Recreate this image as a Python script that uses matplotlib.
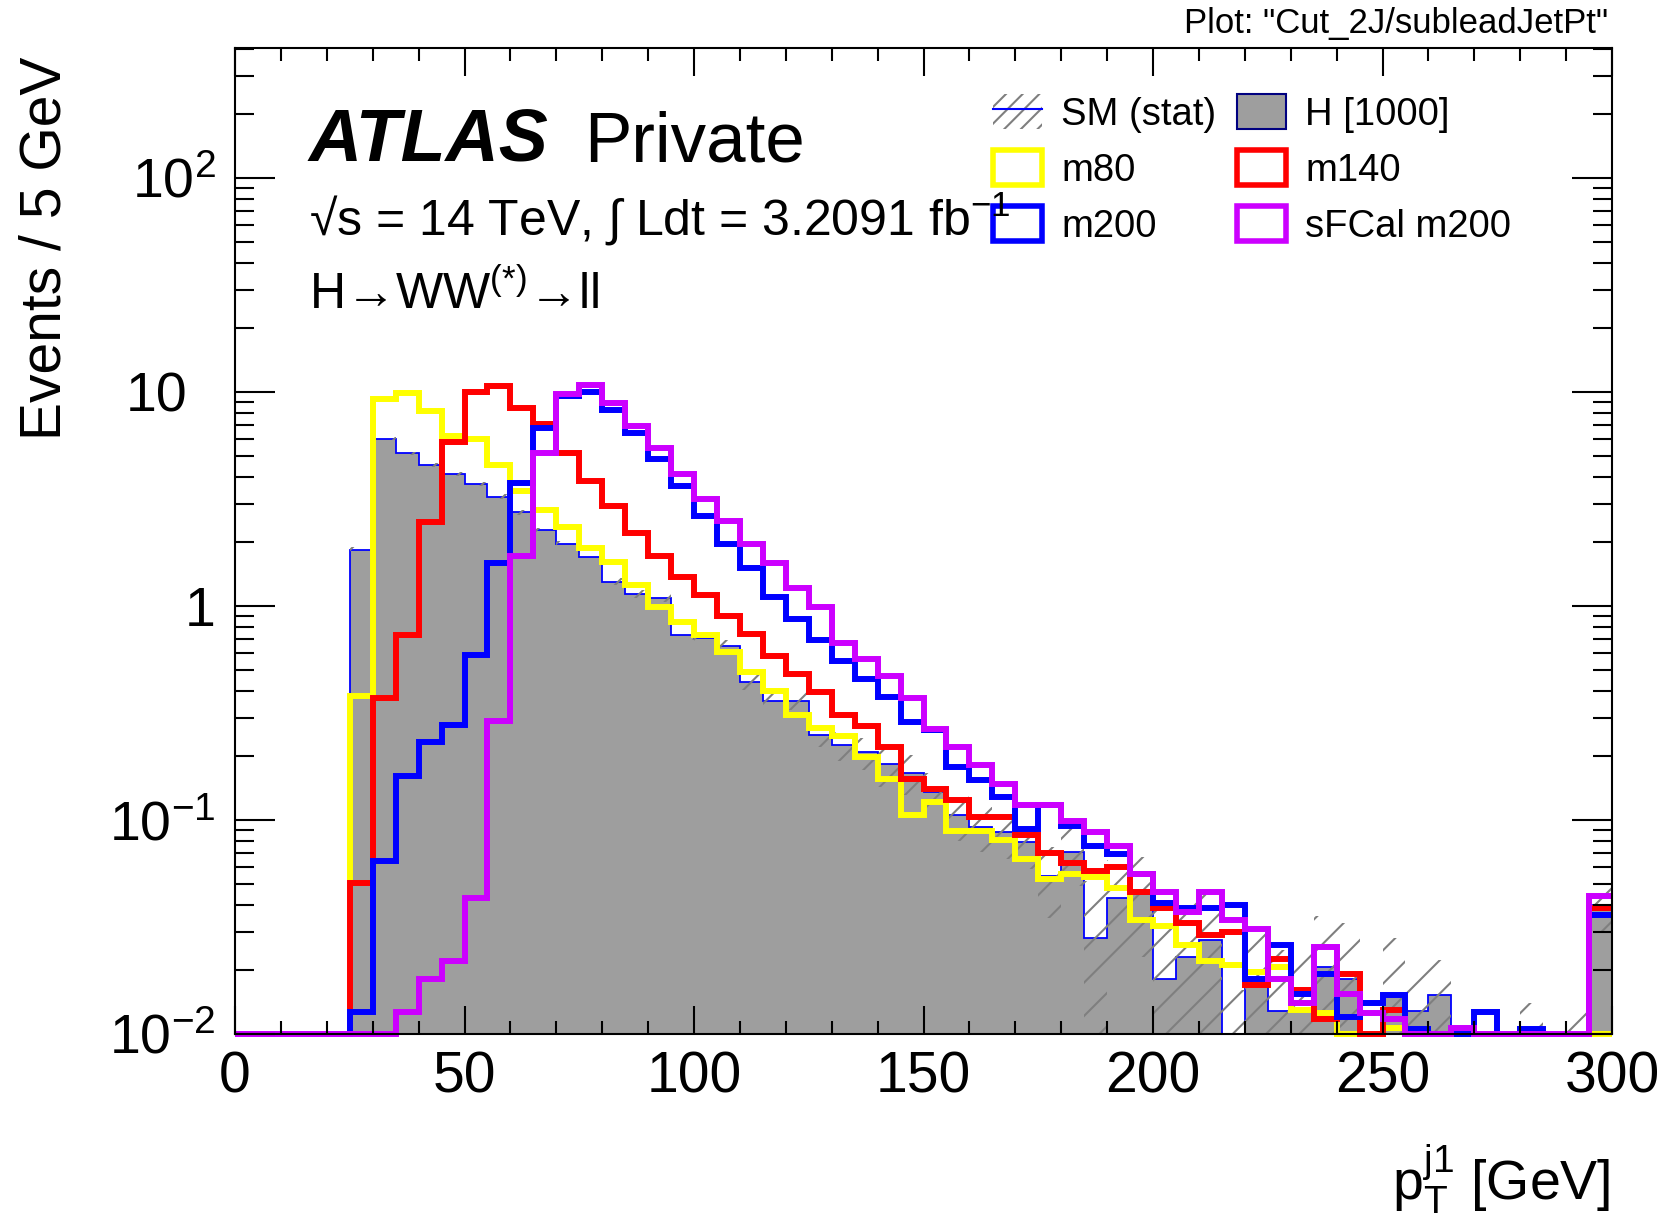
import numpy as np
import matplotlib.pyplot as plt
import matplotlib.transforms as mtransforms
from matplotlib.patches import Patch
from matplotlib.lines import Line2D
from matplotlib.ticker import FixedLocator, FixedFormatter, MultipleLocator, LogLocator, NullFormatter

plt.rcParams['font.family'] = ['Liberation Sans', 'DejaVu Sans']
plt.rcParams['mathtext.fontset'] = 'custom'
plt.rcParams['mathtext.rm'] = 'Liberation Sans'
plt.rcParams['mathtext.it'] = 'Liberation Sans:italic'
plt.rcParams['mathtext.bf'] = 'Liberation Sans:bold'
plt.rcParams['hatch.linewidth'] = 1.5

# 5 GeV bins from 0 to 300
edges = np.arange(0, 305, 5)

# SM background (H [1000]) and its stat error
sm = np.array([0, 0, 0, 0, 0, 1.83, 6.06, 5.16, 4.58, 4.16,
               3.71, 3.24, 2.74, 2.26, 1.95, 1.69, 1.30, 1.14, 1.09, 0.73,
               0.71, 0.65, 0.44, 0.36, 0.36, 0.25, 0.223, 0.207, 0.183, 0.166,
               0.135, 0.105, 0.093, 0.088, 0.079, 0.055, 0.071, 0.028, 0.043, 0.045,
               0.018, 0.023, 0.0275, 0, 0.017, 0.0128, 0.013, 0.0205, 0.018, 0,
               0.015, 0.0128, 0.0152, 0, 0, 0, 0, 0, 0, 0.040])
sm_err = np.array([0, 0, 0, 0, 0, 0.06, 0.12, 0.11, 0.10, 0.09,
                   0.09, 0.08, 0.07, 0.06, 0.06, 0.05, 0.05, 0.05, 0.05, 0.04,
                   0.04, 0.04, 0.035, 0.035, 0.035, 0.03, 0.035, 0.035, 0.04, 0.035,
                   0.03, 0.025, 0.022, 0.022, 0.02, 0.02, 0.022, 0.024, 0.022, 0.022,
                   0.022, 0.02, 0.02, 0.016, 0.015, 0.012, 0.012, 0.015, 0.015, 0,
                   0.013, 0.008, 0.007, 0, 0, 0, 0.014, 0, 0.014, 0.01])

m80 = np.array([0, 0, 0, 0, 0, 0.38, 9.25, 9.94, 8.15, 6.23,
                6.06, 4.55, 3.45, 2.81, 2.33, 1.86, 1.60, 1.25, 0.99, 0.84,
                0.73, 0.61, 0.49, 0.40, 0.31, 0.27, 0.248, 0.197, 0.155, 0.105,
                0.121, 0.089, 0.089, 0.081, 0.066, 0.053, 0.056, 0.054, 0.048, 0.034,
                0.032, 0.026, 0.022, 0.021, 0.0195, 0.0205, 0.013, 0.0125, 0, 0,
                0.0107, 0, 0, 0, 0, 0, 0, 0, 0, 0])
m140 = np.array([0, 0, 0, 0, 0, 0.051, 0.37, 0.73, 2.46, 5.84,
                 10.0, 10.7, 8.46, 7.07, 5.21, 3.84, 2.94, 2.20, 1.72, 1.36,
                 1.12, 0.90, 0.74, 0.586, 0.48, 0.395, 0.31, 0.275, 0.22, 0.156,
                 0.14, 0.124, 0.103, 0.103, 0.085, 0.070, 0.063, 0.058, 0.060, 0.046,
                 0.039, 0.033, 0.029, 0.030, 0.017, 0.0225, 0.016, 0.0117, 0.019, 0,
                 0.013, 0, 0, 0, 0, 0, 0, 0, 0, 0.039])
m200 = np.array([0, 0, 0, 0, 0, 0.0127, 0.064, 0.161, 0.231, 0.279,
                 0.59, 1.59, 3.75, 6.77, 9.6, 10.0, 8.2, 6.42, 4.85, 3.65,
                 2.64, 1.95, 1.50, 1.10, 0.87, 0.69, 0.555, 0.457, 0.375, 0.287,
                 0.262, 0.177, 0.153, 0.128, 0.091, 0.117, 0.094, 0.076, 0.069, 0.056,
                 0.041, 0.039, 0.039, 0.040, 0.018, 0.026, 0.0153, 0.019, 0.012, 0.014,
                 0.0152, 0.0105, 0, 0, 0.0127, 0, 0.0105, 0, 0, 0.036])
sfcal_m200 = np.array([0, 0, 0, 0, 0, 0, 0, 0.0127, 0.018, 0.022,
                       0.043, 0.29, 1.72, 5.2, 9.76, 10.8, 8.92, 6.95, 5.5, 4.13,
                       3.16, 2.5, 1.95, 1.59, 1.22, 0.986, 0.67, 0.566, 0.47, 0.37,
                       0.267, 0.22, 0.181, 0.148, 0.117, 0.117, 0.099, 0.088, 0.076, 0.056,
                       0.046, 0.037, 0.046, 0.034, 0.031, 0.018, 0.0139, 0.0255, 0.0153, 0.0126,
                       0.0117, 0, 0, 0.0107, 0, 0, 0, 0, 0, 0.044])

signals = [("m80", m80, "#ffff00"), ("m140", m140, "#ff0000"),
           ("m200", m200, "#0000ff"), ("sFCal m200", sfcal_m200, "#cc00ff")]

W, H = 1670, 1218
YMIN, YMAX = 0.01, 405
tiny = 1e-5

fig = plt.figure(figsize=(W / 100, H / 100), dpi=100)
ax = fig.add_axes([235 / W, 1 - 1034 / H, 1377 / W, 986 / H])
ax.set_yscale('log')
ax.set_xlim(0, 300)
ax.set_ylim(YMIN, YMAX)

# SM stack
ax.stairs(np.where(sm > 0, sm, tiny), edges, baseline=tiny, fill=True, color='#9e9e9e', lw=0)
ax.stairs(np.clip(sm, YMIN, None), edges, baseline=None, color='#0000ff', lw=1.3)
# stat band
hi = np.maximum(sm + sm_err, tiny)
lo = np.maximum(sm - sm_err, tiny)
ax.stairs(hi, edges, baseline=lo, fill=True, facecolor='none', edgecolor='#7f7f7f',
          hatch='/', lw=0)

for name, vals, c in signals:
    p = ax.stairs(np.clip(vals, YMIN, None), edges, baseline=None, color=c, lw=4.3,
                  clip_on=False)
    p.set_joinstyle('miter')

# axes styling
ax.xaxis.set_major_locator(MultipleLocator(50))
ax.xaxis.set_minor_locator(MultipleLocator(10))
ax.yaxis.set_major_locator(FixedLocator([1e-2, 1e-1, 1, 10, 100]))
ax.yaxis.set_major_formatter(FixedFormatter([r'$10^{-2}$', r'$10^{-1}$', '1', '',
                                             r'$10^{2}$']))
ax.yaxis.set_minor_locator(LogLocator(base=10, subs=range(2, 10), numticks=30))
ax.yaxis.set_minor_formatter(NullFormatter())
ax.tick_params(axis='both', which='both', direction='in', top=True, right=True, width=1.5)
ax.tick_params(axis='y', which='major', length=29, pad=14, labelsize=40)
ax.tick_params(axis='y', which='minor', length=14)
ax.tick_params(axis='x', which='major', length=20, pad=12, labelsize=41)
ax.tick_params(axis='x', which='minor', length=9.5)
for s in ax.spines.values():
    s.set_linewidth(1.5)

# ROOT draws "10" where the base of 10^n would sit
ylab_tr = mtransforms.blended_transform_factory(ax.transAxes, ax.transData)
ax.text(-48 / 1377, 10, '10', transform=ylab_tr, ha='right', va='center_baseline',
        fontsize=40)

# labels and annotations
fig.text(46 / W, 1 - 57 / H, 'Events / 5 GeV', rotation=90, ha='center', va='top', fontsize=41)
fig.text(1610 / W, 1 - 1200 / H, r'$\mathrm{p}_{\mathrm{T}}^{\mathrm{j1}}$ [GeV]',
         ha='right', va='baseline', fontsize=40)
fig.text(1608 / W, 1 - 23 / H, 'Plot: "Cut_2J/subleadJetPt"', ha='right', va='center', fontsize=25)
fig.text(309 / W, 1 - 162 / H, 'ATLAS', fontsize=53, fontweight='bold', fontstyle='italic',
         va='baseline')
fig.text(584 / W, 1 - 162 / H, 'Private', fontsize=51, va='baseline')
fig.text(309 / W, 1 - 236 / H, '√s = 14 TeV, ∫ Ldt = 3.2091 fb$^{-1}$', fontsize=36,
         va='baseline')
fig.text(309 / W, 1 - 309 / H, 'H→WW$^{(*)}$→ll', fontsize=36, va='baseline')

# legend
sm_handle = (Patch(facecolor='none', edgecolor='#7f7f7f', hatch='//', lw=0),
             Line2D([], [], color='#0000ff', lw=1.5))
h_handle = Patch(facecolor='#9e9e9e', edgecolor='#000080', lw=1.5)
sig_handles = {n: Patch(facecolor='none', edgecolor=c, lw=4) for n, v, c in signals}
handles = [sm_handle, sig_handles['m80'], sig_handles['m200'],
           h_handle, sig_handles['m140'], sig_handles['sFCal m200']]
labels = ['SM (stat)', 'm80', 'm200', 'H [1000]', 'm140', 'sFCal m200']
ax.legend(handles, labels, ncol=2, loc='upper left',
          bbox_to_anchor=(993 / W, 1 - 94 / H), bbox_transform=fig.transFigure,
          frameon=False, fontsize=27.5, handlelength=1.28, handleheight=1.05,
          handletextpad=0.5, columnspacing=0.55, labelspacing=0.45,
          borderpad=0, borderaxespad=0)

fig.savefig('out.png', dpi=100)
